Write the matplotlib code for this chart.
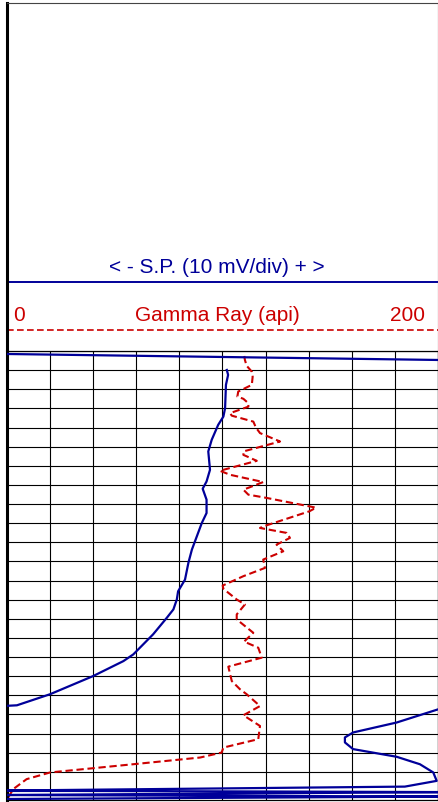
import numpy as np
import matplotlib.pyplot as plt

plt.rcParams['font.family'] = ['Liberation Sans', 'DejaVu Sans']

# gamma ray log (api) against depth (ft)
gr_depth = [2002.6, 2004.7, 2007.7, 2010.8, 2013.4, 2017.7, 2021.2, 2023.8, 2025.0, 2027.3,
            2029.1, 2032.5, 2033.8, 2036.9, 2040.0, 2042.9, 2047.3, 2052.5, 2054.3, 2057.4,
            2062.6, 2064.7, 2068.5, 2072.5, 2075.1, 2076.8, 2081.9, 2083.8, 2091.7, 2092.5,
            2095.1, 2097.7, 2101.2, 2104.7, 2109.0, 2113.4, 2117.7, 2122.6, 2124.3, 2129.9,
            2132.5, 2137.7, 2140.3, 2147.3, 2151.9, 2155.1, 2160.3, 2165.0, 2172.5, 2176.8,
            2179.4, 2185.6, 2190.4, 2196.0, 2202.9, 2207.3, 2209.9, 2212.5, 2216.0, 2220.3,
            2223.8, 2229.0, 2233.3]
gr = [110.1, 110.4, 111.2, 113.6, 114.0, 113.6, 107.3, 106.9, 109.7, 112.0,
      112.0, 103.5, 104.3, 114.3, 115.5, 117.4, 126.7, 109.7, 109.7, 115.9,
      98.8, 103.5, 118.9, 109.7, 112.0, 120.5, 143.4, 140.3, 118.9, 117.4,
      129.8, 131.3, 125.1, 128.2, 118.9, 119.7, 109.7, 100.1, 100.4, 106.6,
      110.4, 106.6, 106.6, 114.3, 110.0, 116.6, 118.2, 102.7, 104.3, 108.1,
      111.2, 117.4, 109.7, 117.4, 116.6, 100.4, 99.6, 89.6, 58.6, 20.0,
      9.1, 2.9, 0.6]

# spontaneous potential (mV), nan = break in the trace
nan = np.nan
sp_depth = [2001.5, 2004.75, nan,
            2009.9, 2012.5, 2017.7, 2029.9, 2034.3, 2038.6, 2046.4, 2052.5, 2062.1, 2068.2,
            2072.0, 2077.7, 2084.7, 2089.9, 2103.8, 2110.6, 2119.5, 2125.6, 2129.9, 2135.1,
            2139.4, 2148.1, 2158.6, 2162.1, 2169.9, 2179.4, 2185.2, 2185.7, nan,
            2185.9, 2194.2, 2199.4, 2202.0, 2204.6, 2208.1, 2212.1, 2216.0, 2220.3, 2224.7,
            2227.7, 2229.8, 2230.6, 2232.1, 2232.9, 2234.2]
sp = [-52, 52, nan,
      1.0, 1.3, 0.8, 0.6, 0.2, -1.0, -2.5, -3.3, -2.9, -3.7,
      -4.6, -3.7, -3.7, -4.8, -7.1, -7.9, -8.7, -10.3, -10.6, -11.4,
      -12.9, -16.1, -20.7, -23.0, -30.0, -40.0, -47.7, -52, nan,
      52, 40.4, 30.3, 28.4, 28.4, 30.3, 40.4, 45.8, 48.9, 49.7,
      42.3, -52, 52, -52, 52, -52]

gr_ticks = np.arange(0, 201, 20)
depth_ticks = np.arange(2000, 2235, 10)

blue = '#000099'
red = '#cc0000'

W, H = 439, 803
fig = plt.figure(figsize=(W / 100, H / 100), dpi=100)

# header box
head = fig.add_axes([7 / W, (H - 351) / H, 431 / W, 347 / H])
head.set_xlim(0, 1)
head.set_ylim(0, 1)
head.set_xticks([])
head.set_yticks([])
head.spines['bottom'].set_visible(False)
head.spines['left'].set_linewidth(2.2)
head.spines['top'].set_color('#444444')
head.spines['right'].set_color('#333333')
head.axhline(0.195, color=blue, lw=1.4)
head.axhline(0.0585, color=red, lw=1.2, linestyle=(0, (4, 2)))
head.text(0.487, 0.2248, '< - S.P. (10 mV/div) + >', color=blue, fontsize=15,
          ha='center', va='baseline')
head.text(0.487, 0.0865, 'Gamma Ray (api)', color=red, fontsize=15,
          ha='center', va='baseline')
head.text(0.0267, 0.0865, '0', color=red, fontsize=15, ha='center', va='baseline')
head.text(0.929, 0.0865, '200', color=red, fontsize=15, ha='center', va='baseline')

# log track
ax = fig.add_axes([7 / W, 2 / H, 431 / W, 449 / H])
ax.set_xlim(0, 200)
ax.set_ylim(2234.7, 2000)
ax.set_xticks(gr_ticks)
ax.set_yticks(depth_ticks)
ax.tick_params(length=0, labelbottom=False, labelleft=False)
ax.grid(True, color='black', lw=0.8)
ax.set_axisbelow(True)
ax.spines['left'].set_linewidth(2.2)
for s in ['top', 'right', 'bottom']:
    ax.spines[s].set_linewidth(0.9)
ax.plot(gr, gr_depth, color=red, lw=1.5, linestyle=(0, (3.5, 1.8)))

ax2 = ax.twiny()
ax2.set_xlim(-50, 50)
ax2.set_xticks([])
for s in ax2.spines.values():
    s.set_visible(False)
ax2.plot(sp, sp_depth, color=blue, lw=1.6)

fig.savefig('out.png', dpi=100)
